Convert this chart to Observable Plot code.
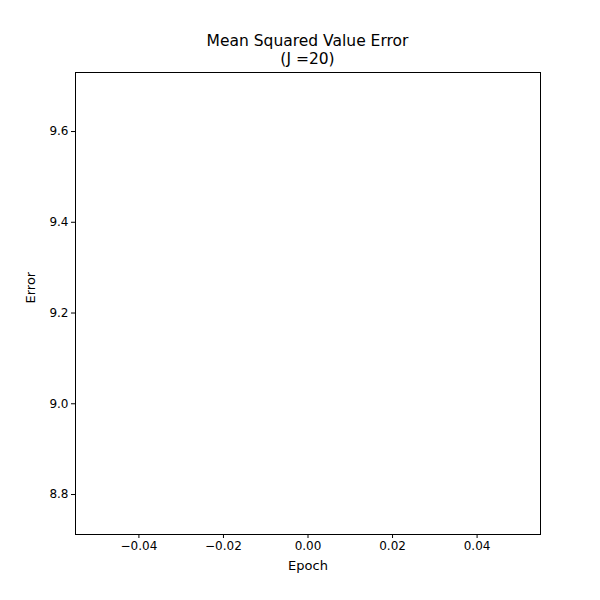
<!DOCTYPE html>
<html>
<head>
<meta charset="utf-8">
<script src="https://cdn.jsdelivr.net/npm/d3@7"></script>
<script src="https://cdn.jsdelivr.net/npm/@observablehq/plot@0.6"></script>
<style>
  body { margin: 0; background: #fff; font-family: "DejaVu Sans", sans-serif; }
  #title { height: 50px; width: 600px; box-sizing: border-box; padding-left: 15px; padding-top: 32px;
           text-align: center; font-size: 15.5px; line-height: 18px; color: #000; }
</style>
</head>
<body>
<div id="title">Mean Squared Value Error<br>(J =20)</div>
<div id="chart"></div>
<script>
const epochs = [0];
const errors = [9.227];
const xTicks = [-0.04, -0.02, 0, 0.02, 0.04];
const yTicks = [8.8, 9.0, 9.2, 9.4, 9.6];

const data = epochs.map((e, i) => ({ epoch: e, error: errors[i] }));
const fmt = (d, n) => d.toFixed(n).replace("-", "\u2212");

const chart = Plot.plot({
  width: 600,
  height: 550,
  marginTop: 22,
  marginLeft: 75,
  marginRight: 60,
  marginBottom: 66,
  style: { fontFamily: "DejaVu Sans, sans-serif", fontSize: "12px", color: "#000" },
  x: { domain: [-0.055, 0.055], ticks: xTicks, tickFormat: d => fmt(d, 2), tickSize: 4, label: null },
  y: { domain: [8.7119, 9.7301], ticks: yTicks, tickFormat: d => fmt(d, 1), tickSize: 4, label: null },
  marks: [
    Plot.frame({ stroke: "#000", strokeWidth: 1 }),
    Plot.axisX({ ticks: xTicks, tickFormat: d => fmt(d, 2), tickSize: 4, tickPadding: 3, label: null }),
    Plot.axisY({ ticks: yTicks, tickFormat: d => fmt(d, 1), tickSize: 4, tickPadding: 3, label: null }),
    // a single-point line draws nothing, as in the original
    Plot.line(data, { x: "epoch", y: "error", stroke: "#1f77b4", strokeWidth: 1.5, strokeLinecap: "butt" }),
    Plot.text(["Epoch"], { frameAnchor: "bottom", dy: 35, fontSize: 13 }),
    Plot.text(["Error"], { frameAnchor: "left", dx: -45, rotate: -90, fontSize: 13 })
  ]
});
document.getElementById("chart").appendChild(chart);
</script>
</body>
</html>
